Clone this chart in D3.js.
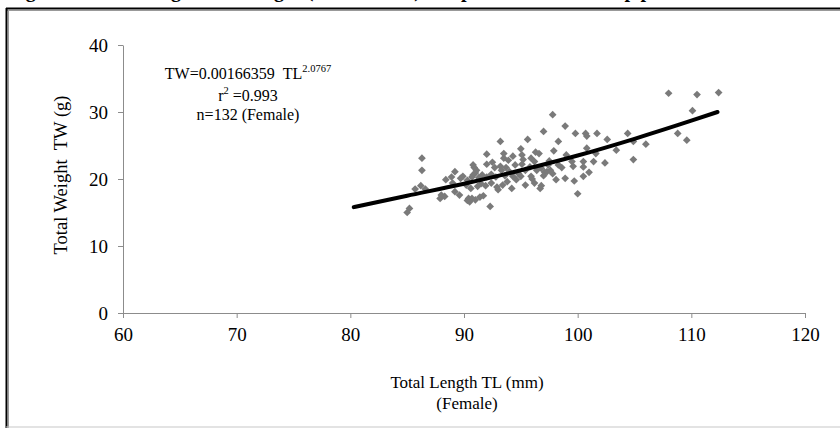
<!DOCTYPE html>
<html>
<head>
<meta charset="utf-8">
<script src="https://cdn.jsdelivr.net/npm/d3@7"></script>
<style>
  body { margin: 0; background: #fff; }
  svg { display: block; font-family: "Liberation Serif", "Times New Roman", serif; }
  .axis path, .axis line { stroke: #8c8c8c; }
  .axis text { font-family: "Liberation Serif", serif; font-size: 19px; fill: #000; }
</style>
</head>
<body>
<svg id="chart" width="840" height="430"></svg>
<script>

// scatter: total length (mm) / total weight (g), female, n=132
var tl = [85.0, 85.2, 85.7, 86.3, 86.3, 86.6, 87.9, 88.0, 88.3, 88.4,
  89.0, 89.2, 89.2, 89.7, 89.6, 90.2, 90.4, 90.5, 90.7, 90.3,
  90.7, 91.0, 90.8, 91.1, 90.9, 91.7, 92.3, 92.0, 92.0, 93.2,
  93.5, 93.5, 92.7, 93.2, 93.3, 93.7, 94.0, 94.5, 95.1, 95.4,
  95.8, 96.4, 96.8, 95.1, 95.2, 95.9, 96.2, 95.6, 97.0, 97.8,
  98.9, 98.3, 99.8, 100.7, 100.8, 101.7, 100.8, 97.3, 97.6, 98.3,
  99.5, 99.6, 100.5, 100.5, 101.4, 102.4, 98.1, 98.9, 99.7, 100.5,
  100.0, 96.8, 95.9, 96.2, 96.7, 95.4, 102.6, 104.4, 104.9, 106.0,
  104.9, 108.0, 110.5, 112.4, 110.1, 108.8, 109.6, 97.1, 97.0, 89.9,
  90.3, 90.8, 91.3, 91.6, 92.0, 92.4, 92.8, 91.5, 91.9, 92.4,
  92.9, 93.4, 93.8, 94.2, 94.6, 93.6, 94.3, 94.8, 93.0, 91.2,
  90.6, 91.0, 91.4, 92.5, 93.9, 94.3, 95.0, 96.3, 96.6, 97.5,
  97.9, 99.0, 98.6, 97.8, 96.0, 95.0, 97.4, 101.6, 103.4, 86.2,
  88.9, 101.0];
var tw = [15.0, 15.6, 18.5, 23.1, 21.3, 18.5, 17.1, 17.6, 17.4, 19.9,
  19.4, 21.1, 18.1, 20.1, 17.6, 19.1, 17.1, 16.6, 17.1, 16.8,
  20.3, 20.9, 22.1, 21.3, 21.7, 17.5, 15.9, 23.7, 22.2, 25.6,
  23.8, 23.1, 21.7, 21.9, 21.3, 21.7, 21.1, 22.1, 22.2, 21.3,
  21.8, 21.3, 21.6, 23.6, 22.9, 23.1, 22.6, 25.9, 27.1, 29.6,
  27.9, 25.6, 26.8, 26.8, 26.4, 26.8, 24.6, 21.1, 21.3, 22.1,
  22.6, 21.9, 22.6, 21.8, 22.6, 22.4, 19.9, 20.1, 19.7, 20.4,
  17.8, 19.0, 20.4, 19.4, 18.6, 19.1, 25.9, 26.8, 25.6, 25.2,
  22.9, 32.8, 32.6, 32.9, 30.2, 26.8, 25.8, 21.0, 20.5, 20.4,
  19.8, 20.6, 20.2, 20.6, 20.3, 20.7, 20.3, 19.3, 19.0, 19.4,
  18.8, 19.1, 19.6, 18.6, 19.9, 20.5, 20.4, 20.8, 18.4, 18.9,
  18.6, 16.9, 17.3, 22.5, 22.8, 23.4, 24.5, 24.0, 23.8, 22.7,
  24.2, 23.6, 21.7, 20.8, 20.0, 20.4, 22.1, 23.8, 24.3, 19.0,
  20.3, 21.0];

// power fit TW = a TL^b
var fitTL = [80.3, 85, 90, 95, 100, 105, 110, 112.3];
var fitTW = [15.8, 17.5, 19.3, 21.3, 23.5, 26.0, 28.7, 30.0];

var xTicks = [60, 70, 80, 90, 100, 110, 120];
var yTicks = [0, 10, 20, 30, 40];

var svg = d3.select("#chart");

// figure frame (caption above is cut off by the crop)
svg.append("text")
  .attr("x", 8).attr("y", -3)
  .style("font-size", "20px").style("font-weight", "bold")
  .text("Figure 6. Total Length and Weight (TL and TW) of Aphanius relationship plot");
svg.append("line").attr("x1", 6).attr("x2", 840).attr("y1", 8.5).attr("y2", 8.5)
  .style("stroke", "#000").style("stroke-width", 2);
svg.append("line").attr("x1", 6).attr("x2", 840).attr("y1", 10.5).attr("y2", 10.5)
  .style("stroke", "#999").style("stroke-width", 1.2);
svg.append("line").attr("x1", 6.5).attr("x2", 6.5).attr("y1", 8).attr("y2", 428)
  .style("stroke", "#000").style("stroke-width", 2);
svg.append("line").attr("x1", 8.5).attr("x2", 8.5).attr("y1", 10).attr("y2", 428)
  .style("stroke", "#999").style("stroke-width", 1);
svg.append("line").attr("x1", 6).attr("x2", 840).attr("y1", 427).attr("y2", 427)
  .style("stroke", "#c8c8c8").style("stroke-width", 1.2);

var x = d3.scaleLinear().domain([60, 120]).range([123, 805]);
var y = d3.scaleLinear().domain([0, 40]).range([313, 45]);

svg.append("g").attr("class", "axis")
  .attr("transform", "translate(0," + y(0) + ")")
  .call(d3.axisBottom(x).tickValues(xTicks).tickSize(5).tickPadding(10).tickSizeOuter(0));
svg.append("g").attr("class", "axis")
  .attr("transform", "translate(" + x(60) + ",0)")
  .call(d3.axisLeft(y).tickValues(yTicks).tickSize(5).tickPadding(10).tickSizeOuter(0));

// points
var pts = tl.map(function (d, i) { return [d, tw[i]]; });
svg.selectAll(".pt").data(pts)
  .enter()
  .append("path")
  .attr("class", "pt")
  .attr("d", d3.symbol().type(d3.symbolDiamond2).size(38))
  .attr("transform", function (d) { return "translate(" + x(d[0]) + "," + y(d[1]) + ")"; })
  .style("fill", "#7a7a7a");

// fitted curve
var fit = fitTL.map(function (d, i) { return [d, fitTW[i]]; });
svg.append("path")
  .datum(fit)
  .attr("d", d3.line().x(function (d) { return x(d[0]); }).y(function (d) { return y(d[1]); }).curve(d3.curveMonotoneX))
  .style("fill", "none").style("stroke", "#000").style("stroke-width", 4)
  .style("stroke-linecap", "round");

// equation block
var eq = svg.append("text").attr("x", 248).attr("y", 79)
  .attr("text-anchor", "middle").style("font-size", "16px");
eq.append("tspan").text("TW=0.00166359\u00a0\u00a0TL");
eq.append("tspan").attr("dy", -7).style("font-size", "10.5px").text("2.0767");

var r2 = svg.append("text").attr("x", 248).attr("y", 101)
  .attr("text-anchor", "middle").style("font-size", "16px");
r2.append("tspan").text("r");
r2.append("tspan").attr("dy", -7).style("font-size", "10.5px").text("2");
r2.append("tspan").attr("dy", 7).text(" =0.993");

svg.append("text").attr("x", 248).attr("y", 120)
  .attr("text-anchor", "middle").style("font-size", "16px")
  .text("n=132 (Female)");

// axis titles
svg.append("text").attr("x", 467).attr("y", 388)
  .attr("text-anchor", "middle").style("font-size", "17px")
  .text("Total Length TL (mm)");
svg.append("text").attr("x", 467).attr("y", 409)
  .attr("text-anchor", "middle").style("font-size", "17px")
  .text("(Female)");
svg.append("text")
  .attr("transform", "translate(67,175) rotate(-90)")
  .attr("text-anchor", "middle").style("font-size", "18.5px")
  .text("Total Weight\u00a0\u00a0TW (g)");

</script>
</body>
</html>
